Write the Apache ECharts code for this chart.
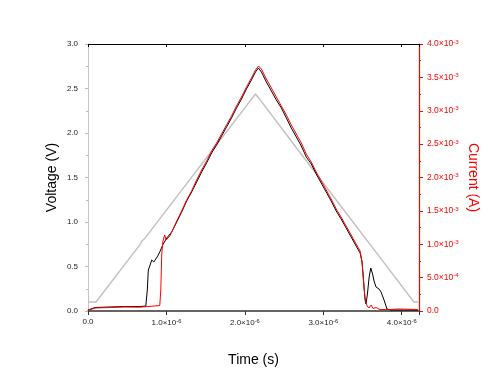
<!DOCTYPE html>
<html>
<head>
<meta charset="utf-8">
<script src="https://cdn.jsdelivr.net/npm/echarts@6/dist/echarts.min.js"></script>
<style>
html,body{margin:0;padding:0;background:#fff;}
#chart{width:488px;height:374px;}
</style>
</head>
<body>
<div id="chart"></div>
<script>
// Time axis ticks (s)
const xTicks = [0, 1e-6, 2e-6, 3e-6, 4e-6];
const voltageTicks = [0, 0.5, 1.0, 1.5, 2.0, 2.5, 3.0];
const currentTicks = [0, 5e-4, 1e-3, 1.5e-3, 2e-3, 2.5e-3, 3e-3, 3.5e-3, 4e-3];

// Gray voltage trace (V) vs time (s)
const grayTime = [0, 0.102e-6, 0.55e-6, 0.66e-6, 0.69e-6, 0.72e-6, 1.2e-6, 1.7e-6, 2.08e-6, 2.11e-6, 2.135e-6, 2.16e-6, 2.2e-6, 2.7e-6, 3.3e-6, 3.8e-6, 4.155e-6, 4.206e-6];
const grayVolt = [0.101, 0.101, 0.616, 0.742, 0.79, 0.811, 1.363, 1.938, 2.375, 2.41, 2.438, 2.41, 2.366, 1.784, 1.09, 0.512, 0.101, 0.101];

// Black voltage trace (V)
const blackTime = [0, 0.089e-6, 0.28e-6, 0.47e-6, 0.66e-6, 0.737e-6, 0.756e-6, 0.769e-6, 0.788e-6, 0.813e-6, 0.839e-6, 0.864e-6, 0.889e-6, 0.915e-6, 0.953e-6, 1.004e-6, 1.067e-6, 1.131e-6, 1.194e-6, 1.258e-6, 1.321e-6, 1.385e-6, 1.449e-6, 1.512e-6, 1.576e-6, 1.639e-6, 1.703e-6, 1.766e-6, 1.83e-6, 1.893e-6, 1.957e-6, 2.02e-6, 2.084e-6, 2.135e-6, 2.173e-6, 2.211e-6, 2.274e-6, 2.338e-6, 2.401e-6, 2.465e-6, 2.529e-6, 2.592e-6, 2.656e-6, 2.719e-6, 2.783e-6, 2.846e-6, 2.91e-6, 2.973e-6, 3.037e-6, 3.1e-6, 3.164e-6, 3.227e-6, 3.291e-6, 3.355e-6, 3.418e-6, 3.469e-6, 3.494e-6, 3.513e-6, 3.532e-6, 3.545e-6, 3.564e-6, 3.583e-6, 3.605e-6, 3.628e-6, 3.647e-6, 3.672e-6, 3.71e-6, 3.736e-6, 3.774e-6, 3.812e-6, 3.863e-6, 4.206e-6];
const blackVolt = [0.011, 0.039, 0.045, 0.05, 0.05, 0.056, 0.236, 0.46, 0.506, 0.573, 0.551, 0.584, 0.618, 0.663, 0.742, 0.82, 0.888, 1.0, 1.112, 1.236, 1.337, 1.449, 1.562, 1.663, 1.775, 1.865, 1.966, 2.067, 2.169, 2.281, 2.382, 2.494, 2.596, 2.685, 2.73, 2.685, 2.573, 2.472, 2.371, 2.281, 2.169, 2.056, 1.955, 1.854, 1.73, 1.652, 1.539, 1.438, 1.337, 1.236, 1.124, 1.034, 0.933, 0.831, 0.73, 0.652, 0.551, 0.348, 0.124, 0.079, 0.202, 0.371, 0.483, 0.416, 0.337, 0.27, 0.247, 0.213, 0.124, 0.022, 0.011, 0.011];

// Red current trace (A)
const redTime = [0, 0.089e-6, 0.28e-6, 0.47e-6, 0.66e-6, 0.851e-6, 0.915e-6, 0.928e-6, 0.94e-6, 0.953e-6, 0.978e-6, 0.997e-6, 1.017e-6, 1.042e-6, 1.08e-6, 1.131e-6, 1.194e-6, 1.258e-6, 1.321e-6, 1.385e-6, 1.449e-6, 1.512e-6, 1.576e-6, 1.639e-6, 1.703e-6, 1.766e-6, 1.83e-6, 1.893e-6, 1.957e-6, 2.02e-6, 2.084e-6, 2.135e-6, 2.173e-6, 2.211e-6, 2.274e-6, 2.338e-6, 2.401e-6, 2.465e-6, 2.529e-6, 2.592e-6, 2.656e-6, 2.719e-6, 2.783e-6, 2.846e-6, 2.91e-6, 2.973e-6, 3.037e-6, 3.1e-6, 3.164e-6, 3.227e-6, 3.291e-6, 3.355e-6, 3.418e-6, 3.469e-6, 3.494e-6, 3.513e-6, 3.532e-6, 3.558e-6, 3.583e-6, 3.609e-6, 3.634e-6, 3.672e-6, 3.723e-6, 3.837e-6, 3.964e-6, 4.206e-6];
const redCurrent = [0.0075e-3, 0.045e-3, 0.052e-3, 0.06e-3, 0.057e-3, 0.075e-3, 0.082e-3, 0.315e-3, 0.839e-3, 1.034e-3, 1.139e-3, 1.064e-3, 1.049e-3, 1.124e-3, 1.213e-3, 1.348e-3, 1.498e-3, 1.663e-3, 1.798e-3, 1.963e-3, 2.112e-3, 2.247e-3, 2.397e-3, 2.517e-3, 2.652e-3, 2.787e-3, 2.921e-3, 3.071e-3, 3.206e-3, 3.356e-3, 3.491e-3, 3.61e-3, 3.67e-3, 3.625e-3, 3.476e-3, 3.341e-3, 3.206e-3, 3.071e-3, 2.936e-3, 2.787e-3, 2.652e-3, 2.517e-3, 2.352e-3, 2.232e-3, 2.082e-3, 1.948e-3, 1.813e-3, 1.678e-3, 1.528e-3, 1.408e-3, 1.273e-3, 1.139e-3, 1.004e-3, 0.899e-3, 0.734e-3, 0.434e-3, 0.195e-3, 0.075e-3, 0.045e-3, 0.09e-3, 0.037e-3, 0.052e-3, 0.022e-3, 0.022e-3, 0.03e-3, 0.022e-3];

const FONT = 'Liberation Sans, Arial, sans-serif';

function sciLabel(v) {
  if (Math.abs(v) < 1e-15) return '{n|0.0}';
  const exp = Math.floor(Math.log10(v) + 1e-9);
  const m = v / Math.pow(10, exp);
  return '{n|' + m.toFixed(1) + '×10}{s|-' + (-exp) + '}';
}
function onTicks(ticks, v) {
  return ticks.some(t => Math.abs(t - v) < 1e-12 + Math.abs(t) * 1e-6);
}
const richLbl = (color, size) => ({
  n: { fontSize: size, color: color, fontFamily: FONT },
  s: { fontSize: size * 0.72, color: color, fontFamily: FONT, verticalAlign: 'top', padding: [0, 0, 4, 0] }
});

const chart = echarts.init(document.getElementById('chart'), null, { renderer: 'canvas' });

const pairs = (xs, ys) => xs.map((x, i) => [x, ys[i]]);

chart.setOption({
  animation: false,
  backgroundColor: '#fff',
  grid: { left: 88, right: 69, top: 44, bottom: 63, containLabel: false },
  xAxis: [
    {
      type: 'value', position: 'bottom', min: 0, max: 4.22e-6, interval: 1e-6,
      name: 'Time (s)', nameLocation: 'middle', nameGap: 42, nameMoveOverlap: false,
      nameTextStyle: { fontSize: 14, color: '#000', fontFamily: FONT },
      axisLine: { show: true, onZero: false, lineStyle: { color: '#333', width: 1.5 } },
      axisTick: { show: true, inside: false, length: 4, lineStyle: { color: '#333', width: 1 } },
      splitLine: { show: false },
      axisLabel: {
        margin: 7,
        formatter: v => onTicks(xTicks, v) ? sciLabel(v) : '',
        rich: richLbl('#222', 8)
      }
    },
    {
      type: 'value', position: 'top', min: 0, max: 4.22e-6, interval: 1e-6,
      axisLine: { show: true, onZero: false, lineStyle: { color: '#000', width: 1.2 } },
      axisTick: { show: true, inside: true, length: 3, lineStyle: { color: '#000' } },
      axisLabel: { show: false },
      splitLine: { show: false }
    }
  ],
  yAxis: [
    {
      type: 'value', position: 'left', min: 0, max: 3, interval: 0.5,
      name: 'Voltage (V)', nameLocation: 'middle', nameGap: 29, nameRotate: 90, nameMoveOverlap: false,
      nameTextStyle: { fontSize: 14, color: '#000', fontFamily: FONT },
      axisLine: { show: true, onZero: false, lineStyle: { color: '#c4c4c4', width: 1 } },
      axisTick: { show: true, inside: false, length: 3, lineStyle: { color: '#bbb' } },
      minorTick: { show: true, splitNumber: 2, length: 2, lineStyle: { color: '#bbb' } },
      splitLine: { show: false },
      axisLabel: {
        margin: 10, fontSize: 8, color: '#222', fontFamily: FONT,
        formatter: v => onTicks(voltageTicks, v) ? v.toFixed(1) : ''
      }
    },
    {
      type: 'value', position: 'right', min: 0, max: 4e-3, interval: 5e-4,
      name: 'Current (A)', nameLocation: 'middle', nameGap: 47, nameRotate: -90, nameMoveOverlap: false,
      nameTextStyle: { fontSize: 14, color: '#ff0000', fontFamily: FONT },
      axisLine: { show: true, onZero: false, lineStyle: { color: '#ff0000', width: 1.2 } },
      axisTick: { show: true, inside: false, length: 4, lineStyle: { color: '#ff0000' } },
      minorTick: { show: true, splitNumber: 2, length: 2, lineStyle: { color: '#ff0000' } },
      splitLine: { show: false },
      axisLabel: {
        margin: 8,
        formatter: v => onTicks(currentTicks, v) ? sciLabel(v) : '',
        rich: richLbl('#ff0000', 8.5)
      }
    }
  ],
  series: [
    {
      name: 'Gray', type: 'line', xAxisIndex: 0, yAxisIndex: 0, showSymbol: false,
      lineStyle: { color: '#c0c0c0', width: 1.4 }, data: pairs(grayTime, grayVolt), z: 2
    },
    {
      name: 'Voltage', type: 'line', xAxisIndex: 0, yAxisIndex: 0, showSymbol: false,
      lineStyle: { color: '#000', width: 1 }, data: pairs(blackTime, blackVolt), z: 3
    },
    {
      name: 'Current', type: 'line', xAxisIndex: 0, yAxisIndex: 1, showSymbol: false,
      lineStyle: { color: '#ff0000', width: 1 }, data: pairs(redTime, redCurrent), z: 4
    }
  ]
});
</script>
</body>
</html>
